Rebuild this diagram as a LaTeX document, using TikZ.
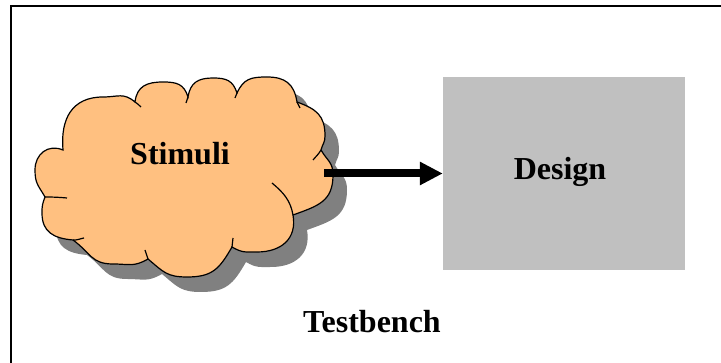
\documentclass[tikz,border=0pt]{standalone}
\usepackage{fontspec}
\setmainfont{Liberation Serif}
\usetikzlibrary{arrows.meta}
\definecolor{cloudfill}{RGB}{255,192,128}
\definecolor{shadowgray}{RGB}{128,128,128}
\definecolor{boxgray}{RGB}{192,192,192}
\tikzset{
  lbl/.style={font=\bfseries\fontsize{32}{36}\selectfont, anchor=base, inner sep=0pt},
  frameline/.style={line width=2pt, draw=black},
  cloudline/.style={line width=1.2pt, draw=black},
  puffy/.style={every to/.style={looseness=1.2}},
  bigarrow/.style={line width=8pt, -{Triangle[length=23pt,width=22pt]}},
}
\def\cloudpath{(63,213) to[out=95,in=180] (103,266) to[out=0,in=140] (135,261)
  to[out=83,in=180] (163,281) to[out=0,in=107] (188,266)
  to[out=81,in=180] (213,285) to[out=0,in=108] (237,270)
  to[out=65,in=180] (267,286) to[out=0,in=99] (297,261)
  to[out=-20,in=90] (325,227) to[out=-90,in=75] (321,213)
  to[out=-60,in=90] (333,188) to[out=-90,in=20] (293,148)
  to[out=-80,in=0] (257,111) to[out=180,in=-30] (232,116)
  to[out=-120,in=0] (187,86) to[out=180,in=-40] (148,104)
  to[out=-150,in=0] (113,99) to[out=180,in=-36] (73,123)
  to[out=175,in=-90] (42,150) to[out=90,in=-110] (45,166)
  to[out=120,in=-90] (35,193) to[out=90,in=157] (63,213) -- cycle}
\begin{document}
\begin{tikzpicture}[x=1pt,y=1pt]
\useasboundingbox (0,0) rectangle (721,363);
% frame (top and left edges visible)
\draw[frameline] (721,357) -- (11,357) -- (11,0);
% cloud shadow
\fill[shadowgray, puffy, shift={(14,-15)}] \cloudpath;
% cloud
\filldraw[fill=cloudfill, cloudline, puffy] \cloudpath;
% interior strokes of the cloud
\draw[cloudline] (135,261) to[out=-40,in=130] (141,256);
\draw[cloudline] (188,266) to[out=-100,in=75] (186,260);
\draw[cloudline] (237,270) to[out=-110,in=70] (235,265);
\draw[cloudline] (297,261) to[out=-70,in=110] (300,255);
\draw[cloudline] (321,213) to[out=-120,in=50] (313,203);
\draw[cloudline] (293,148) to[out=100,in=-40] (272,180);
\draw[cloudline] (232,116) to[out=85,in=-95] (233,125);
\draw[cloudline] (148,104) to[out=105,in=-75] (145,113);
\draw[cloudline] (73,123) to[out=-5,in=190] (84,125);
\draw[cloudline] (45,166) to[out=0,in=175] (67,165);
% design box
\node[fill=boxgray, minimum width=242pt, minimum height=193pt, inner sep=0pt] (design) at (564,189.5) {};
% labels
\node[lbl] (stimuli) at (180,198) {Stimuli};
\node[lbl] (designlbl) at (560,183.5) {Design};
\node[lbl] (testbench) at (372,30.3) {Testbench};
% arrow
\coordinate (arrowstart) at (324,189.5);
\draw[bigarrow] (arrowstart) -- (design.west);
\end{tikzpicture}
\end{document}
